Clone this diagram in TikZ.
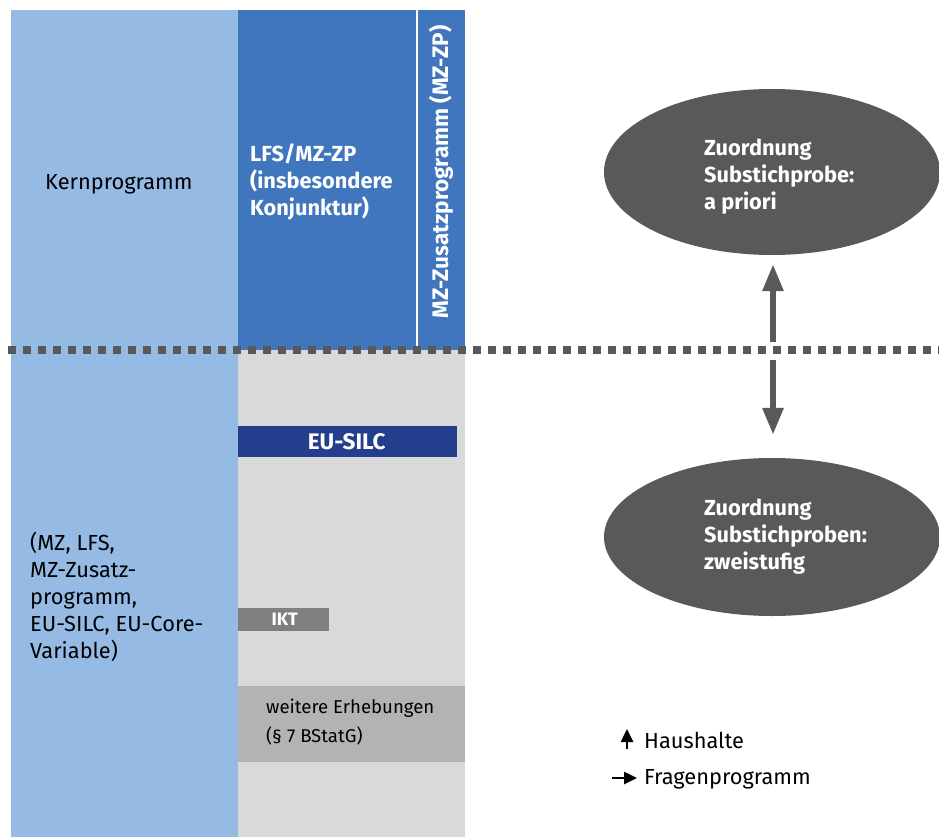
\documentclass[tikz,border=0pt]{standalone}
\usepackage{fontspec}
\setmainfont{Fira Sans}
\usetikzlibrary{arrows.meta,shapes.geometric}
\definecolor{lblue}{HTML}{95BAE4}
\definecolor{dblue}{HTML}{4076BD}
\definecolor{lgray}{HTML}{D9D9D9}
\definecolor{mgray}{HTML}{B3B3B3}
\definecolor{igray}{HTML}{7F7F7F}
\definecolor{navy}{HTML}{233E8C}
\definecolor{dgray}{HTML}{595959}
\tikzset{
  txt/.style={inner sep=0pt,align=left,font=\fontsize{21.8}{27}\selectfont},
  wtxt/.style={txt,text=white,font=\fontsize{21.8}{27}\selectfont\bfseries},
  blob/.style={ellipse,fill=dgray,inner sep=0pt,minimum width=336pt,minimum height=166pt},
  bigarrow/.style={draw=dgray,line width=6pt,-{Triangle[width=20pt,length=27pt]}},
  smallarrow/.style={draw=black,line width=2.5pt,-{Triangle[width=12pt,length=13pt]}},
}
\begin{document}
\begin{tikzpicture}[x=1pt,y=-1pt]
\useasboundingbox (0,0) rectangle (939,837);
% columns
\fill[lblue] (11,10) rectangle (238,837);
\fill[dblue] (238,10) rectangle (465,350);
\fill[lgray] (238,350) rectangle (465,837);
\draw[white,line width=2pt] (417,10) -- (417,350);
% bars
\node[fill=navy,minimum width=219pt,minimum height=31pt,inner sep=0pt,anchor=north west] (eusilc) at (238,426) {};
\node[wtxt,font=\fontsize{22.5}{27}\selectfont\bfseries] at ([xshift=-1pt]eusilc.center) {EU-SILC};
\node[fill=igray,minimum width=91pt,minimum height=23pt,inner sep=0pt,anchor=north west] (ikt) at (238,608) {};
\node[wtxt,font=\fontsize{18}{20}\selectfont\bfseries] at ([xshift=1pt]ikt.center) {IKT};
\node[fill=mgray,minimum width=227pt,minimum height=76pt,inner sep=0pt,anchor=north west] (weitere) at (238,686) {};
\node[txt,anchor=west,font=\fontsize{18.6}{29}\selectfont] (wtext) at (266,722) {weitere Erhebungen\\(§ 7 BStatG)};
% dotted divider
\coordinate (dl) at (8,350);
\coordinate (dr) at (945,350);
\draw[dgray,line width=8pt,dash pattern=on 8pt off 7pt] (dl) -- (dr);
% texts
\node[txt,anchor=west] (kern) at (45,184) {Kernprogramm};
\node[wtxt,anchor=west] (lfs) at (250,182) {LFS/MZ-ZP\\(insbesondere\\Konjunktur)};
\node[txt,text=white,rotate=90,font=\fontsize{22.5}{27}\selectfont\bfseries] (mzzp) at (441,172) {MZ-Zusatzprogramm (MZ-ZP)};
\node[txt,anchor=west] (mz) at (30,597) {(MZ, LFS,\\MZ-Zusatz-\\programm,\\EU-SILC, EU-Core-\\Variable)};
% ellipses
\node[blob] (e1) at (772,172) {};
\node[wtxt,anchor=west] (e1t) at (704,177) {Zuordnung\\Substichprobe:\\a priori};
\node[blob,minimum height=158pt] (e2) at (772,537) {};
\node[wtxt,anchor=west] (e2t) at (704,537) {Zuordnung\\Substichproben:\\zweistufig};
% arrows
\coordinate (a1s) at (773,342);
\coordinate (a2s) at (773,360);
\draw[bigarrow] (a1s) -- ([yshift=-9pt]e1.south -| a1s);
\draw[bigarrow] (a2s) -- ([yshift=23pt]e2.north -| a2s);
% legend
\node[txt,anchor=west] (hh) at (644,740) {Haushalte};
\node[txt,anchor=west] (fp) at (644,779) {Fragenprogramm};
\coordinate (u1) at (627,749);
\coordinate (u2) at (627,729);
\draw[smallarrow] (u1) -- (u2);
\coordinate (r1) at (612,778);
\coordinate (r2) at (637,778);
\draw[smallarrow] (r1) -- (r2);
\end{tikzpicture}
\end{document}
